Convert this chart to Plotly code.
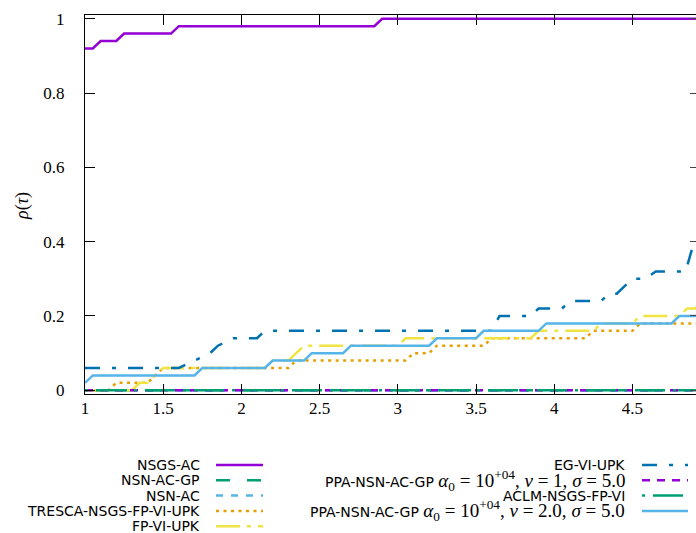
import plotly.graph_objects as go

# ---------------- data ----------------
names = [
    "NSGS-AC",
    "NSN-AC-GP",
    "NSN-AC",
    "TRESCA-NSGS-FP-VI-UPK",
    "FP-VI-UPK",
    "EG-VI-UPK",
    "PPA-NSN-AC-GP nu1",
    "ACLM-NSGS-FP-VI",
    "PPA-NSN-AC-GP nu2",
]

tau_nsgs = [1, 1.05, 1.1, 1.2, 1.25, 1.55, 1.6, 2.85, 2.9, 5.0]
rho_nsgs = [0.92, 0.92, 0.94, 0.94, 0.96, 0.96, 0.98, 0.98, 1.0, 1.0]

tau_zero = [1, 5.0]
rho_nsn_gp = [0, 0]
rho_nsn = [0, 0]
rho_ppa1 = [0, 0]
rho_aclm = [0, 0]

tau_tresca = [1, 1.15, 1.2, 1.4, 1.45, 1.5, 2.3, 2.35, 3.05, 3.1, 3.2, 3.25, 3.55, 3.6, 4.2, 4.25, 4.5, 4.55, 5.0]
rho_tresca = [0, 0, 0.02, 0.02, 0.04, 0.06, 0.06, 0.08, 0.08, 0.10, 0.10, 0.12, 0.12, 0.14, 0.14, 0.16, 0.16, 0.18, 0.18]

tau_fp = [1, 1.3, 1.35, 1.4, 1.45, 1.5, 2.15, 2.2, 2.3, 2.35, 2.4, 3.0, 3.05, 3.85, 3.9, 4.25, 4.3, 4.5, 4.55, 4.8, 4.85, 4.9, 4.95, 5.0]
rho_fp = [0, 0, 0.02, 0.02, 0.04, 0.06, 0.06, 0.08, 0.08, 0.10, 0.12, 0.12, 0.14, 0.14, 0.16, 0.16, 0.18, 0.18, 0.20, 0.20, 0.22, 0.22, 0.24, 0.24]

tau_eg = [1, 1.6, 1.7, 1.8, 1.85, 1.95, 2.1, 2.15, 3.6, 3.65, 3.85, 3.9, 4.05, 4.1, 4.3, 4.35, 4.4, 4.5, 4.58, 4.65, 4.84, 4.895, 5.0]
rho_eg = [0.06, 0.06, 0.08, 0.10, 0.12, 0.14, 0.14, 0.16, 0.16, 0.20, 0.20, 0.22, 0.22, 0.24, 0.24, 0.26, 0.26, 0.30, 0.30, 0.32, 0.32, 0.40, 0.44]

tau_ppa2 = [1, 1.05, 1.7, 1.75, 2.15, 2.2, 2.4, 2.45, 2.65, 2.7, 3.2, 3.25, 3.5, 3.55, 3.9, 3.95, 4.75, 4.8, 5.0]
rho_ppa2 = [0.02, 0.04, 0.04, 0.06, 0.06, 0.08, 0.08, 0.10, 0.10, 0.12, 0.12, 0.14, 0.14, 0.16, 0.16, 0.18, 0.18, 0.20, 0.20]

x_ticks = [1, 1.5, 2, 2.5, 3, 3.5, 4, 4.5]
x_ticktext = ["1", "1.5", "2", "2.5", "3", "3.5", "4", "4.5"]
y_ticks = [0, 0.2, 0.4, 0.6, 0.8, 1.0]
y_ticktext = ["0", "0.2", "0.4", "0.6", "0.8", "1"]

MATH = "font-family:Liberation Serif;font-size:19px"
legend_labels = [
    "NSGS-AC",
    "NSN-AC-GP",
    "NSN-AC",
    "TRESCA-NSGS-FP-VI-UPK",
    "FP-VI-UPK",
    "EG-VI-UPK",
    "PPA-NSN-AC-GP <span style='%s'><i>α</i><sub>0</sub> = 10<sup>+04</sup>, <i>ν</i> = 1, <i>σ</i> = 5.0</span>" % MATH,
    "ACLM-NSGS-FP-VI",
    "PPA-NSN-AC-GP <span style='%s'><i>α</i><sub>0</sub> = 10<sup>+04</sup>, <i>ν</i> = 2.0, <i>σ</i> = 5.0</span>" % MATH,
]

# ---------------- styles ----------------
PURPLE = "#9400D3"
GREEN = "#009E73"
LBLUE = "#56B4E9"
ORANGE = "#E69F00"
YELLOW = "#F0E442"
DBLUE = "#0072B2"

series = [
    (tau_nsgs, rho_nsgs, PURPLE, "solid"),
    (tau_zero, rho_nsn_gp, GREEN, "14px,17px"),
    (tau_zero, rho_nsn, LBLUE, "7px,8px"),
    (tau_tresca, rho_tresca, ORANGE, "3px,4.5px"),
    (tau_fp, rho_fp, YELLOW, "24px,7px,4px,7px"),
    (tau_eg, rho_eg, DBLUE, "15px,12px,4px,12px"),
    (tau_zero, rho_ppa1, PURPLE, "8px,7px"),
    (tau_zero, rho_aclm, GREEN, "3px,8px,30px,8px"),
    (tau_ppa2, rho_ppa2, LBLUE, "solid"),
]

W, H = 696, 533
ML, MR, MT, MB = 85, 0, 15, 139
PW = W - ML - MR
PH = H - MT - MB
PX_PER_UNIT = 156.4
x_max = 1 + PW / PX_PER_UNIT

fig = go.Figure()
for (tx, ry, col, dash), nm in zip(series, names):
    fig.add_trace(go.Scatter(x=tx, y=ry, mode="lines", name=nm,
                             line=dict(color=col, width=2.5, dash=dash),
                             showlegend=False, hoverinfo="skip"))

# invisible trace to keep the mirrored right y axis
fig.add_trace(go.Scatter(x=[1], y=[0], yaxis="y2", mode="markers",
                         marker=dict(opacity=0), showlegend=False, hoverinfo="skip"))

def px2x(px):
    return (px - ML) / PW

def py2y(py):
    return (MT + PH - py) / PH

annotations = []
shapes = []
col1_rows = [465, 480.3, 495.6, 510.9, 526.2]
col2_rows = [465, 480.3, 495.6, 510.9]
positions = [(202, 216, 263, r) for r in col1_rows] + [(627, 642, 688, r) for r in col2_rows]
for (tr, s0, s1, ry), lab, (_, _, col, dash) in zip(positions, legend_labels, series):
    annotations.append(dict(x=px2x(tr), y=py2y(ry), xref="paper", yref="paper",
                            text=lab, showarrow=False, xanchor="right", yanchor="middle",
                            font=dict(family="DejaVu Sans", size=14, color="black")))
    shapes.append(dict(type="line", xref="paper", yref="paper",
                       x0=px2x(s0), x1=px2x(s1), y0=py2y(ry), y1=py2y(ry),
                       line=dict(color=col, width=2.5, dash=dash)))

annotations.append(dict(x=px2x(22), y=py2y(206), xref="paper", yref="paper",
                        text="<i>ρ</i>(<i>τ</i>)", showarrow=False, textangle=-90,
                        xanchor="center", yanchor="middle",
                        font=dict(family="Liberation Serif", size=18, color="black")))

tickfont = dict(family="Liberation Serif", size=17, color="black")
fig.update_layout(
    width=W, height=H, autosize=False,
    margin=dict(l=ML, r=MR, t=MT, b=MB, pad=0),
    paper_bgcolor="white", plot_bgcolor="white",
    showlegend=False,
    xaxis=dict(range=[1, x_max], tickvals=x_ticks, ticktext=x_ticktext,
               ticks="inside", ticklen=10, tickwidth=1, tickcolor="black",
               showline=True, linecolor="black", linewidth=1, mirror="ticks",
               showgrid=False, zeroline=False, tickfont=tickfont,
               ticklabelstandoff=-1),
    yaxis=dict(range=[-0.01, 1.01], tickvals=y_ticks, ticktext=y_ticktext,
               ticks="inside", ticklen=10, tickwidth=1, tickcolor="black",
               showline=True, linecolor="black", linewidth=1, mirror=False,
               showgrid=False, zeroline=False, tickfont=tickfont,
               ticklabelstandoff=16),
    yaxis2=dict(range=[-0.01, 1.01], overlaying="y", side="right",
                tickvals=y_ticks, ticks="inside", ticklen=6, tickwidth=1,
                tickcolor="#444", showticklabels=False, showline=False,
                showgrid=False, zeroline=False),
    annotations=annotations,
    shapes=shapes,
)

fig.write_html(
    "out.html",
    config={"displayModeBar": False},
    post_script="document.body.style.margin='0';"
                "document.documentElement.style.overflow='hidden';"
                "document.body.style.overflow='hidden';",
)
